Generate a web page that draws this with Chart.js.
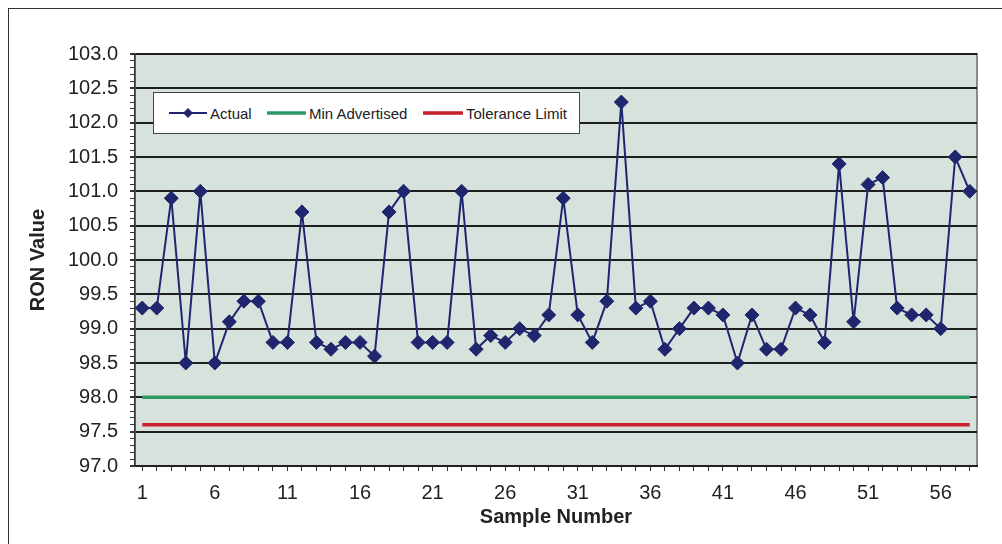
<!DOCTYPE html>
<html>
<head>
<meta charset="utf-8">
<script src="https://cdn.jsdelivr.net/npm/chart.js@4/dist/chart.umd.min.js"></script>
<style>
  html, body { margin: 0; padding: 0; background: #fff; }
  #wrap { position: relative; width: 1002px; height: 544px; overflow: hidden; font-family: "Liberation Sans", Arial, sans-serif; }
  #frame { position: absolute; left: 8px; top: 8px; width: 1100px; height: 600px; border-top: 1.5px solid #333; border-left: 1.5px solid #333; }
  #chart { position: absolute; left: 0; top: 0; }
  #legend {
    position: absolute; left: 153px; top: 92px; width: 425px; height: 40px;
    background: #fff; border: 1px solid #444;
    font-size: 15px; color: #222;
  }
  .item { position: absolute; top: 0; height: 40px; display: flex; align-items: center; }
  .item svg { margin-right: 3px; }
</style>
</head>
<body>
<div id="wrap">
  <div id="frame"></div>
  <canvas id="chart" width="1002" height="544"></canvas>
  <div id="legend">
    <div class="item" style="left:15px">
      <svg width="38" height="12"><line x1="0" y1="6" x2="38" y2="6" stroke="#20266e" stroke-width="2"/><path d="M19 1 L24 6 L19 11 L14 6 Z" fill="#20266e"/></svg>Actual
    </div>
    <div class="item" style="left:113px">
      <svg width="39" height="12"><line x1="1" y1="6" x2="38" y2="6" stroke="#2e9a63" stroke-width="3.5" stroke-linecap="round"/></svg>Min Advertised
    </div>
    <div class="item" style="left:269px">
      <svg width="40" height="12"><line x1="1" y1="6" x2="39" y2="6" stroke="#c8202a" stroke-width="3.5" stroke-linecap="round"/></svg>Tolerance Limit
    </div>
  </div>
</div>
<script>
'use strict';

// 샘플 번호
const sampleLabels = [
  '1','2','3','4','5','6','7','8','9','10',
  '11','12','13','14','15','16','17','18','19','20',
  '21','22','23','24','25','26','27','28','29','30',
  '31','32','33','34','35','36','37','38','39','40',
  '41','42','43','44','45','46','47','48','49','50',
  '51','52','53','54','55','56','57','58'
];

// 측정값 (RON)
const actualValues = [
  99.3, 99.3, 100.9, 98.5, 101.0, 98.5, 99.1, 99.4, 99.4, 98.8,
  98.8, 100.7, 98.8, 98.7, 98.8, 98.8, 98.6, 100.7, 101.0, 98.8,
  98.8, 98.8, 101.0, 98.7, 98.9, 98.8, 99.0, 98.9, 99.2, 100.9,
  99.2, 98.8, 99.4, 102.3, 99.3, 99.4, 98.7, 99.0, 99.3, 99.3,
  99.2, 98.5, 99.2, 98.7, 98.7, 99.3, 99.2, 98.8, 101.4, 99.1,
  101.1, 101.2, 99.3, 99.2, 99.2, 99.0, 101.5, 101.0
];

const minAdvertised  = 98.0;
const toleranceLimit = 97.6;

const yMin = 97.0, yMax = 103.0;

const FONT = "'Liberation Sans', Arial, sans-serif";
const isMajor = v => Math.round(v * 10) % 5 === 0;

// 배경
const plotBg = {
  id: 'plotBg',
  beforeDraw(chart) {
    const { ctx, chartArea: a } = chart;
    ctx.save();
    ctx.fillStyle = '#d7e2dc';
    ctx.fillRect(a.left, a.top, a.right - a.left, a.bottom - a.top);
    ctx.strokeStyle = '#8a8a8a';
    ctx.lineWidth = 2;
    ctx.strokeRect(a.left, a.top, a.right - a.left, a.bottom - a.top);
    ctx.restore();
  }
};

const first = sampleLabels[0];
const last  = sampleLabels[sampleLabels.length - 1];

new Chart(document.getElementById('chart'), {
  type: 'line',
  data: {
    labels: sampleLabels,
    datasets: [
      {
        label: 'Tolerance Limit',
        data: [{ x: first, y: toleranceLimit }, { x: last, y: toleranceLimit }],
        borderColor: '#c8202a',
        borderWidth: 3.5,
        pointRadius: 0,
        order: 3
      },
      {
        label: 'Min Advertised',
        data: [{ x: first, y: minAdvertised }, { x: last, y: minAdvertised }],
        borderColor: '#2e9a63',
        borderWidth: 3.5,
        pointRadius: 0,
        order: 2
      },
      {
        label: 'Actual',
        data: actualValues,
        borderColor: '#20266e',
        borderWidth: 2,
        pointStyle: 'rectRot',
        pointRadius: 7,
        pointBackgroundColor: '#20266e',
        pointBorderColor: '#20266e',
        pointBorderWidth: 1,
        tension: 0,
        order: 1
      }
    ]
  },
  options: {
    responsive: false,
    animation: false,
    layout: { padding: { left: 0, top: 54, right: 25, bottom: 0 } },
    plugins: {
      legend: { display: false },
      tooltip: { enabled: false }
    },
    scales: {
      x: {
        type: 'category',
        offset: true,
        afterFit: s => { s.height = 78; },
        grid: { drawOnChartArea: false, offset: false, tickLength: 5, color: '#333', lineWidth: 1 },
        border: { color: '#222', width: 2 },
        ticks: {
          autoSkip: false,
          maxRotation: 0,
          padding: 10,
          color: '#222',
          font: { family: FONT, size: 20 },
          callback(val, i) { return i % 5 === 0 ? this.getLabelForValue(val) : ''; }
        },
        title: {
          display: true,
          text: 'Sample Number',
          color: '#222',
          padding: 15,
          font: { family: FONT, size: 20, weight: 'bold' }
        }
      },
      y: {
        min: yMin,
        max: yMax,
        afterFit: s => { s.width = 135; },
        grid: {
          color: c => isMajor(c.tick.value) ? '#1e1e1e' : 'rgba(0,0,0,0)',
          lineWidth: c => isMajor(c.tick.value) ? 2 : 1,
          tickColor: '#333',
          tickLength: 5
        },
        border: { color: '#333', width: 1.5 },
        ticks: {
          stepSize: 0.1,
          autoSkip: false,
          padding: 12,
          color: '#222',
          font: { family: FONT, size: 20 },
          callback: v => isMajor(v) ? v.toFixed(1) : ''
        },
        title: {
          display: true,
          text: 'RON Value',
          color: '#222',
          padding: 26,
          font: { family: FONT, size: 20, weight: 'bold' }
        }
      }
    }
  },
  plugins: [plotBg]
});
</script>
</body>
</html>
